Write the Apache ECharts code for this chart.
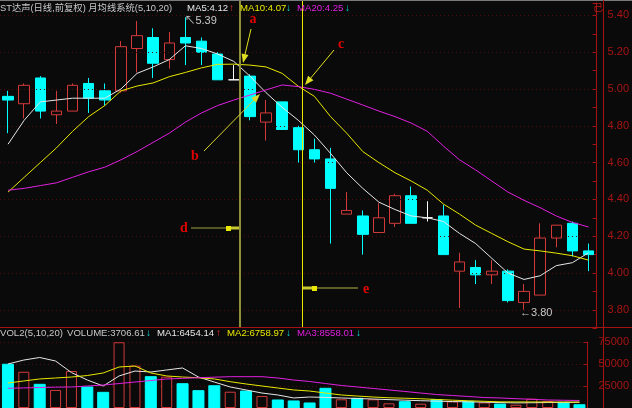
<!DOCTYPE html>
<html><head><meta charset="utf-8">
<script src="https://cdn.jsdelivr.net/npm/echarts@6/dist/echarts.min.js"></script>
<style>html,body{margin:0;padding:0;background:#0a0a0a;}#c{width:632px;height:408px;}</style>
</head><body><div id="c"></div>
<script>
// ---- data ----
const categories = ['1','2','3','4','5','6','7','8','9','10','11','12','13','14','15','16','17','18','19','20','21','22','23','24','25','26','27','28','29','30','31','32','33','34','35','36','37'];
const openP  = [4.96,4.92,5.06,4.86,4.88,5.03,4.99,4.99,5.22,5.28,5.16,5.28,5.26,5.19,5.05,5.07,4.82,4.93,4.79,4.67,4.62,4.32,4.31,4.22,4.27,4.42,4.30,4.31,4.01,4.03,3.99,4.01,3.84,3.88,4.19,4.27,4.12];
const closeP = [4.94,5.02,4.88,4.88,5.02,4.95,4.94,5.23,5.29,5.14,5.25,5.25,5.20,5.05,5.05,4.85,4.87,4.78,4.67,4.62,4.46,4.34,4.21,4.30,4.42,4.27,4.30,4.10,4.06,3.99,4.01,3.85,3.90,4.19,4.26,4.12,4.10];
const lowP   = [4.76,4.84,4.84,4.81,4.88,4.87,4.91,4.98,5.09,5.06,5.11,5.13,5.13,5.05,5.05,4.83,4.72,4.78,4.60,4.60,4.16,4.32,4.10,4.22,4.25,4.27,4.28,4.10,3.81,3.94,3.94,3.84,3.80,3.88,4.14,4.09,4.01];
const highP  = [4.99,5.03,5.07,4.99,5.03,5.06,5.03,5.26,5.37,5.33,5.31,5.39,5.28,5.20,5.13,5.08,4.94,4.93,4.80,4.73,4.68,4.44,4.34,4.38,4.43,4.47,4.39,4.37,4.11,4.07,4.07,4.02,3.94,4.27,4.26,4.28,4.16];
const ma5  = [4.70,4.83,4.93,4.94,4.95,4.95,4.95,5.00,5.085,5.12,5.16,5.235,5.22,5.19,5.15,5.07,4.98,4.90,4.83,4.75,4.65,4.545,4.46,4.385,4.345,4.31,4.30,4.28,4.215,4.16,4.08,4.00,3.965,3.985,4.04,4.056,4.11];
const ma10 = [4.44,4.52,4.60,4.68,4.77,4.85,4.91,4.99,5.016,5.033,5.067,5.09,5.115,5.134,5.135,5.13,5.12,5.085,5.015,4.96,4.85,4.76,4.66,4.60,4.545,4.50,4.45,4.375,4.32,4.26,4.215,4.17,4.13,4.12,4.108,4.094,4.07];
const ma20 = [4.45,4.46,4.475,4.49,4.52,4.55,4.575,4.615,4.66,4.71,4.76,4.82,4.87,4.91,4.94,4.967,4.995,5.022,5.013,4.998,4.977,4.945,4.913,4.88,4.85,4.815,4.77,4.69,4.615,4.56,4.50,4.44,4.395,4.355,4.31,4.275,4.25];
const volume  = [49700,41200,26900,20500,42000,23900,17800,74700,48100,35600,35600,27600,19700,25300,18500,19300,13600,9100,8000,5700,22400,9900,11000,9900,5300,7200,4900,9500,7500,7500,6300,4500,3700,10500,7900,6400,3706.61];
const volMa5  = [50000,54500,57400,53400,40300,31800,25000,36400,42000,40900,43200,45500,35200,29500,23900,20500,17000,14800,11400,12500,12000,11400,10800,10200,9500,8900,8300,7800,7300,7000,6600,6200,5800,6000,6200,6300,6454.14];
const volMa10 = [28400,30700,33000,34100,35200,36900,39800,46600,47700,39800,36400,35200,34400,33000,29900,27300,25000,22700,20500,19300,17000,14800,13600,12500,11600,11100,10500,9700,8900,8200,7600,7000,6900,6900,6800,6800,6758.97];
const volMa20 = [22400,22800,23300,23700,23900,25000,26100,27800,29500,31200,33000,33700,34400,35000,35600,35600,35600,34100,31800,30100,27800,25600,23900,22200,20500,18800,17000,15300,14200,13100,11900,11400,10600,9900,9100,8800,8558.01];
const priceLabels = ['3.80','4.00','4.20','4.40','4.60','4.80','5.00','5.20','5.40'];
const volLabels = ['25000','50000','75000'];
const highIndex = 11, lowIndex = 32;

// ---- styles ----
const BG = '#0a0a0a', RED = '#d23a3a', AXR = '#a41212', GRR = '#4e0c0c', CYAN = '#00ffff';
const WHITE = '#e6e6e6', YEL = '#e8e800', MAG = '#e020e0', TXT = '#c8c8c8';
const FONT = 'Arial, "Noto Sans CJK SC", sans-serif';

const chart = echarts.init(document.getElementById('c'));
const candleData = categories.map((c, i) => [openP[i], closeP[i], lowP[i], highP[i]]);
const volData = volume.map((v, i) => ({
  value: v,
  itemStyle: closeP[i] < openP[i] ? {color: CYAN, borderColor: CYAN} : {color: BG, borderColor: RED, borderWidth: 1}
}));

function txt(x, y, s, fill, size, bold) {
  return {type: 'text', x: x, y: y, silent: true, z: 50,
    style: {text: s, fill: fill, fontSize: size || 9.6, fontWeight: bold ? 'bold' : 'normal', fontFamily: FONT, verticalAlign: 'middle', align: 'left'}};
}
function seg(x1, y1, x2, y2, color, w) {
  return {type: 'line', silent: true, z: 40, shape: {x1, y1, x2, y2}, style: {stroke: color, lineWidth: w || 1}};
}
function arrow(x1, y1, x2, y2, color) {
  const dx = x2 - x1, dy = y2 - y1, L = Math.hypot(dx, dy), ux = dx / L, uy = dy / L, nx = -uy, ny = ux;
  return [seg(x1, y1, x2 - ux * 6, y2 - uy * 6, color, 1),
    {type: 'polygon', silent: true, z: 40, shape: {points: [[x2, y2], [x2 - ux * 9 + nx * 3.5, y2 - uy * 9 + ny * 3.5], [x2 - ux * 9 - nx * 3.5, y2 - uy * 9 - ny * 3.5]]}, style: {fill: color}}];
}
function letter(x, y, s) {
  return {type: 'text', x: x, y: y, silent: true, z: 50,
    style: {text: s, fill: '#e00000', fontSize: 14, fontWeight: 'bold', fontFamily: '"Liberation Serif", "DejaVu Serif", serif', align: 'center', verticalAlign: 'middle'}};
}

const graphics = [
  seg(0, 0.5, 632, 0.5, '#7a7a7a', 1),
  seg(0, 327.5, 632, 327.5, AXR, 1),
  seg(603.5, 0, 603.5, 408, AXR, 1),
  seg(240, 1, 240, 327, '#8f8f3a', 2),
  seg(302.5, 1, 302.5, 327, YEL, 1),
  letter(253, 19, 'a'),
  ...arrow(251, 29, 243, 63, '#e0e020'),
  letter(195, 156, 'b'),
  ...arrow(204, 151, 260, 94, '#d8d830'),
  letter(341, 44, 'c'),
  ...arrow(334, 50, 305, 85, '#e0e020'),
  letter(184, 228, 'd'),
  seg(191, 228, 239, 228, '#a0a040', 1),
  seg(226, 228, 239, 228, '#c8c830', 3),
  {type: 'rect', silent: true, z: 41, shape: {x: 226, y: 226, width: 5, height: 5}, style: {fill: YEL}},
  letter(366, 289, 'e'),
  seg(358, 288, 303, 288, '#b0b040', 1),
  seg(303, 288, 317, 288, '#c8c830', 3),
  {type: 'rect', silent: true, z: 41, shape: {x: 312, y: 286, width: 5, height: 5}, style: {fill: YEL}},
  txt(0, 8, 'ST达声(日线,前复权) 月均线系统(5,10,20)', TXT, 9.3),
  txt(187, 8, 'MA5:4.12', WHITE), txt(229, 8, '↑', '#ff3030', 10, true),
  txt(240, 8, 'MA10:4.07', YEL), txt(286, 8, '↓', '#00e0e0', 10, true),
  txt(297, 8, 'MA20:4.25', MAG), txt(345, 8, '↓', '#00e0e0', 10, true),
  txt(593, 8, '己', '#c01818', 10),
  txt(0, 333, 'VOL2(5,10,20)', TXT),
  txt(67, 333, 'VOLUME:3706.61', TXT), txt(146, 333, '↓', '#00e0e0', 10, true),
  txt(157, 333, 'MA1:6454.14', WHITE), txt(216, 333, '↑', '#ff3030', 10, true),
  txt(227, 333, 'MA2:6758.97', YEL), txt(286, 333, '↓', '#00e0e0', 10, true),
  txt(297, 333, 'MA3:8558.01', MAG), txt(356, 333, '↓', '#00e0e0', 10, true)
];

const hidX = {axisLine: {show: false}, axisTick: {show: false}, axisLabel: {show: false}, splitLine: {show: false}};
function lineS(data, color, xi, yi) {
  return {type: 'line', data: data, xAxisIndex: xi, yAxisIndex: yi, symbol: 'none', smooth: false, z: 5,
    lineStyle: {color: color, width: 1}, itemStyle: {color: color}, silent: true};
}

const option = {
  backgroundColor: BG,
  animation: false,
  grid: [
    {left: -2, right: 29, top: 3, height: 325.2},
    {left: -2, right: 29, top: 342, bottom: 0}
  ],
  xAxis: [
    Object.assign({type: 'category', data: categories, gridIndex: 0, boundaryGap: true}, hidX),
    Object.assign({type: 'category', data: categories, gridIndex: 1, boundaryGap: true}, hidX)
  ],
  yAxis: [
    {type: 'value', gridIndex: 0, position: 'right', min: 3.7, max: 5.4674, interval: 0.1,
      axisLine: {show: true, lineStyle: {color: AXR}},
      axisTick: {show: true, inside: true, length: 4, lineStyle: {color: AXR}},
      axisLabel: {color: '#a81414', fontSize: 11, fontFamily: FONT, margin: 11,
        formatter: v => { const s = v.toFixed(2); return priceLabels.includes(s) ? s : ''; }},
      splitLine: {show: false}},
    {type: 'value', gridIndex: 1, position: 'right', min: 0, max: 75000, interval: 25000,
      axisLine: {show: true, lineStyle: {color: AXR}},
      axisTick: {show: true, inside: true, length: 4, lineStyle: {color: AXR}},
      axisLabel: {color: '#a81414', fontSize: 11, fontFamily: FONT, margin: 11,
        formatter: v => volLabels.includes(String(v)) ? String(v) : ''},
      splitLine: {show: true, lineStyle: {color: GRR, type: [1, 3]}}}
  ],
  series: [
    {type: 'line', data: [], xAxisIndex: 0, yAxisIndex: 0, z: 1, silent: true,
      markLine: {silent: true, symbol: ['none', 'none'], label: {show: false}, animation: false,
        lineStyle: {color: GRR, type: [1, 3], width: 1},
        data: priceLabels.map(s => ({yAxis: parseFloat(s)}))}},
    {type: 'candlestick', data: candleData, xAxisIndex: 0, yAxisIndex: 0, barWidth: 11, z: 3,
      itemStyle: {color: BG, color0: CYAN, borderColor: RED, borderColor0: CYAN, borderWidth: 1, borderColorDoji: '#ffffff'},
      markPoint: {silent: true, symbol: 'circle', symbolSize: 0, animation: false,
        data: [
          {coord: [categories[highIndex], highP[highIndex]], value: highP[highIndex],
            label: {show: true, position: 'right', distance: 0, offset: [-1, 4], color: TXT, fontSize: 11, fontFamily: FONT,
              formatter: '↖' + highP[highIndex].toFixed(2)}},
          {coord: [categories[lowIndex], lowP[lowIndex]], value: lowP[lowIndex],
            label: {show: true, position: 'right', distance: 0, offset: [-4, 3], color: TXT, fontSize: 11, fontFamily: FONT,
              formatter: '←' + lowP[lowIndex].toFixed(2)}}
        ]}},
    lineS(ma5, WHITE, 0, 0),
    lineS(ma10, YEL, 0, 0),
    lineS(ma20, MAG, 0, 0),
    {type: 'bar', data: volData, xAxisIndex: 1, yAxisIndex: 1, barWidth: 11, z: 3, silent: true},
    lineS(volMa5, WHITE, 1, 1),
    lineS(volMa10, YEL, 1, 1),
    lineS(volMa20, MAG, 1, 1)
  ],
  graphic: graphics
};
chart.setOption(option);
</script></body></html>
